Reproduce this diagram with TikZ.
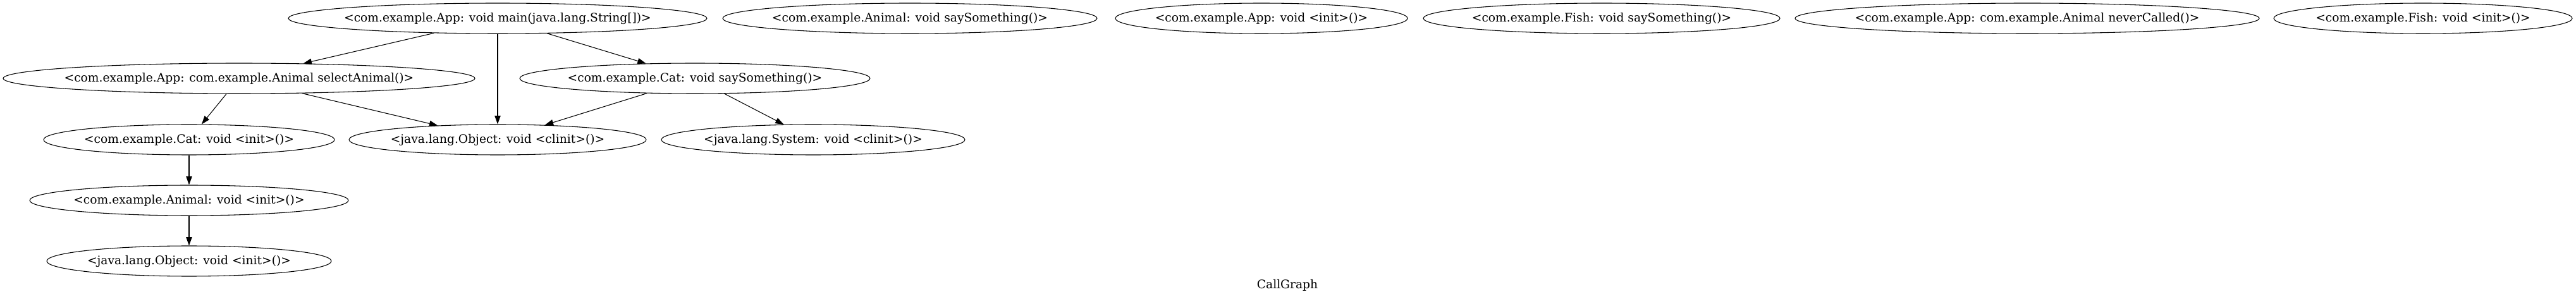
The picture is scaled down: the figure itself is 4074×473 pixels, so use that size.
\documentclass[tikz,border=0pt]{standalone}
\usepackage{fontspec}
\setmainfont{DejaVu Serif}
\usetikzlibrary{shapes.geometric,arrows.meta}
\tikzset{
  nd/.style={ellipse, draw, line width=0.8pt, inner sep=0pt, minimum height=36pt, font=\fontsize{14}{16}\selectfont},
  edge/.style={line width=0.8pt, -{Triangle[length=10pt,width=7pt]}},
}
\newcommand{\lbl}[1]{\makebox[0pt][c]{#1}}
\begin{document}
\begin{tikzpicture}[x=0.75pt,y=-0.75pt]
\useasboundingbox (0,0) rectangle (4074,473);
\node[nd, minimum width=496.5pt] (main) at (787,29) {\lbl{<com.example.App: void main(java.lang.String[])>}};
\node[nd, minimum width=444pt] (animalSay) at (1439,29) {\lbl{<com.example.Animal: void saySomething()>}};
\node[nd, minimum width=346.5pt] (appInit) at (1995,29) {\lbl{<com.example.App: void <init>()>}};
\node[nd, minimum width=423pt] (fishSay) at (2533,29) {\lbl{<com.example.Fish: void saySomething()>}};
\node[nd, minimum width=550.5pt] (never) at (3206,29) {\lbl{<com.example.App: com.example.Animal neverCalled()>}};
\node[nd, minimum width=354pt] (fishInit) at (3832,29) {\lbl{<com.example.Fish: void <init>()>}};
\node[nd, minimum width=559.5pt] (select) at (378,124) {\lbl{<com.example.App: com.example.Animal selectAnimal()>}};
\node[nd, minimum width=415.5pt] (catSay) at (1099,124) {\lbl{<com.example.Cat: void saySomething()>}};
\node[nd, minimum width=345pt] (catInit) at (299,221) {\lbl{<com.example.Cat: void <init>()>}};
\node[nd, minimum width=352.5pt] (objClinit) at (787,221) {\lbl{<java.lang.Object: void <clinit>()>}};
\node[nd, minimum width=360pt] (sysClinit) at (1286,221) {\lbl{<java.lang.System: void <clinit>()>}};
\node[nd, minimum width=378pt] (animalInit) at (299,317) {\lbl{<com.example.Animal: void <init>()>}};
\node[nd, minimum width=337.5pt] (objInit) at (299,413) {\lbl{<java.lang.Object: void <init>()>}};
\node[font=\fontsize{14}{16}\selectfont, inner sep=0pt] (title) at (2036,451) {CallGraph};
\draw[edge] (main) -- (select);
\draw[edge] (main) -- (catSay);
\draw[edge] (main) -- (objClinit);
\draw[edge] (select) -- (catInit);
\draw[edge] (select) -- (objClinit);
\draw[edge] (catSay) -- (objClinit);
\draw[edge] (catSay) -- (sysClinit);
\draw[edge] (catInit) -- (animalInit);
\draw[edge] (animalInit) -- (objInit);
\end{tikzpicture}
\end{document}
